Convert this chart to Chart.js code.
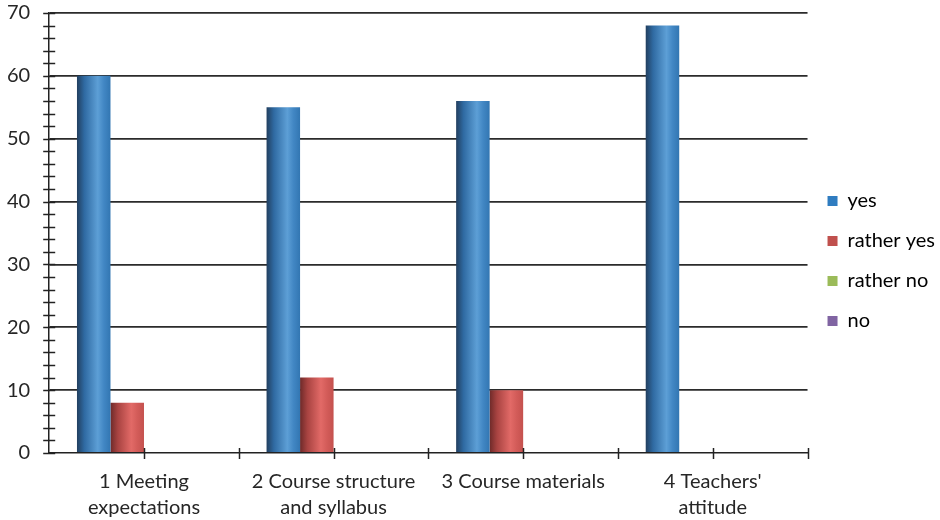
<!DOCTYPE html>
<html>
<head>
<meta charset="utf-8">
<script src="https://cdn.jsdelivr.net/npm/chart.js@4.4.1/dist/chart.umd.min.js"></script>
<style>
  html, body { margin: 0; padding: 0; background: #ffffff; }
  #wrap { width: 940px; height: 520px; position: relative; }
</style>
</head>
<body>
<div id="wrap"><canvas id="chart"></canvas></div>
<script>
// Survey results per course aspect
const categories = [
  ['1 Meeting', 'expectations'],
  ['2 Course structure', 'and syllabus'],
  ['3 Course materials'],
  ["4 Teachers'", 'attitude']
];
const seriesNames = ['yes', 'rather yes', 'rather no', 'no'];
const yesValues = [60, 55, 56, 68];
const ratherYesValues = [8, 12, 10, 0];
const ratherNoValues = [0, 0, 0, 0];
const noValues = [0, 0, 0, 0];
const yTickStep = 2;
const yMax = 70;

const flatColors = ['#2f7cc0', '#c0504d', '#9bbb59', '#8064a2'];
// cylinder-like shading across each bar (left edge dark, highlight right of centre)
const shading = [
  [[0, '#223f5f'], [0.22, '#2f6aa2'], [0.62, '#5d9fd6'], [0.8, '#4287c4'], [1, '#3276b2']],
  [[0, '#6e2a29'], [0.22, '#a84341'], [0.62, '#e26a67'], [0.8, '#d35c59'], [1, '#c4514e']],
  [[0, '#5f7a32'], [0.22, '#86a64a'], [0.62, '#b5d277'], [1, '#9bbb59']],
  [[0, '#4a3766'], [0.22, '#6d548e'], [0.62, '#9a80bd'], [1, '#8064a2']]
];

const CAT_PCT = 0.707;
const TEXT = '#262626';
const FONT = 'Lato, "Open Sans", sans-serif';

function barFill(seriesIdx) {
  return (c) => {
    const chart = c.chart;
    const xs = chart.scales && chart.scales.x;
    if (c.type !== 'data' || !xs || !chart.chartArea) return flatColors[seriesIdx];
    const n = seriesNames.length;
    const catW = xs.width / categories.length;
    const groupW = catW * CAT_PCT;
    const barW = groupW / n;
    const center = xs.getPixelForValue(c.dataIndex);
    const left = center - groupW / 2 + barW * c.datasetIndex;
    const g = chart.ctx.createLinearGradient(left, 0, left + barW, 0);
    shading[seriesIdx].forEach(([p, col]) => g.addColorStop(p, col));
    return g;
  };
}

// Tick marks that cross both axes (major + minor on y, boundaries + centres on x)
const crossTicks = {
  id: 'crossTicks',
  afterDraw(chart) {
    const { ctx, scales: { x, y } } = chart;
    ctx.save();
    ctx.strokeStyle = '#222';
    ctx.lineWidth = 1.5;
    const ax = x.left;
    for (let v = 0; v <= yMax; v += yTickStep) {
      const py = Math.round(y.getPixelForValue(v)) + 0.5;
      ctx.beginPath();
      ctx.moveTo(ax - 6, py);
      ctx.lineTo(ax + 6, py);
      ctx.stroke();
    }
    const ay = y.bottom;
    const catW = x.width / categories.length;
    for (let i = 0; i < categories.length; i++) {
      const c = x.getPixelForValue(i);
      [c, c + catW / 2].forEach(px => {
        const rx = Math.round(px) + 0.5;
        ctx.beginPath();
        ctx.moveTo(rx, ay - 5);
        ctx.lineTo(rx, ay + 6);
        ctx.stroke();
      });
    }
    ctx.restore();
  }
};

const seriesValues = [yesValues, ratherYesValues, ratherNoValues, noValues];

new Chart(document.getElementById('chart'), {
  type: 'bar',
  data: {
    labels: categories,
    datasets: seriesNames.map((name, i) => ({
      label: name,
      data: seriesValues[i],
      backgroundColor: barFill(i),
      borderWidth: 0,
      categoryPercentage: CAT_PCT,
      barPercentage: 1
    }))
  },
  options: {
    responsive: true,
    maintainAspectRatio: false,
    animation: false,
    layout: { padding: { top: -15, left: 6, right: -5, bottom: -17 } },
    plugins: {
      tooltip: { enabled: false },
      legend: {
        position: 'right',
        align: 'center',
        labels: {
          boxWidth: 10,
          boxHeight: 10,
          padding: 20,
          color: TEXT,
          font: { family: FONT, size: 20 },
          generateLabels: (chart) => seriesNames.map((name, i) => ({
            text: name,
            fillStyle: flatColors[i],
            strokeStyle: flatColors[i],
            lineWidth: 0,
            hidden: false,
            datasetIndex: i
          }))
        }
      }
    },
    scales: {
      x: {
        grid: { display: true, color: 'transparent', drawTicks: false, offset: true },
        border: { display: true, color: '#222', width: 1.5 },
        ticks: {
          color: TEXT,
          font: { family: FONT, size: 20, lineHeight: 1.3 },
          padding: 16,
          autoSkip: false,
          maxRotation: 0
        }
      },
      y: {
        min: 0,
        max: yMax,
        grid: {
          drawTicks: true,
          tickLength: 18,
          tickColor: 'transparent',
          color: (c) => (c.tick && c.tick.value % 10 === 0 && c.tick.value > 0) ? '#2b2b2b' : 'transparent',
          lineWidth: 1.8
        },
        border: { display: true, color: '#222', width: 1.5 },
        ticks: {
          stepSize: yTickStep,
          color: TEXT,
          font: { family: FONT, size: 20 },
          padding: 1,
          autoSkip: false,
          callback: (v) => (v % 10 === 0 ? String(v) : '')
        }
      }
    }
  },
  plugins: [crossTicks]
});
</script>
</body>
</html>
